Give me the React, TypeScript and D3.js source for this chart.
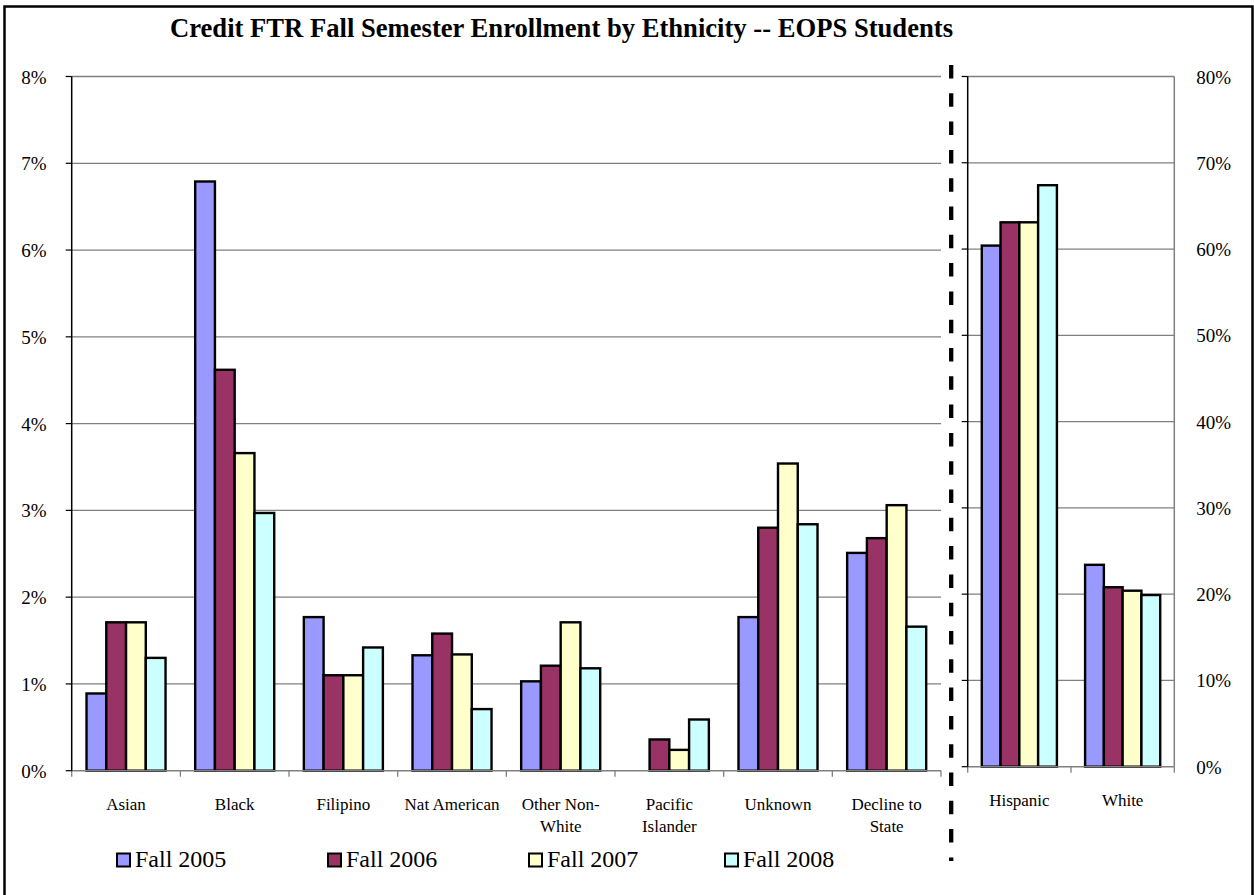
import { scaleBand, scaleLinear } from "d3";

const leftCategories = [
  "Asian",
  "Black",
  "Filipino",
  "Nat American",
  "Other Non-\nWhite",
  "Pacific\nIslander",
  "Unknown",
  "Decline to\nState",
];
const rightCategories = ["Hispanic", "White"];

const seriesNames = ["Fall 2005", "Fall 2006", "Fall 2007", "Fall 2008"];
const seriesColors = ["#9999FF", "#993366", "#FFFFCC", "#CCFFFF"];

// percent values
const fall2005Left = [0.89, 6.79, 1.77, 1.33, 1.03, null, 1.77, 2.51];
const fall2006Left = [1.71, 4.62, 1.1, 1.58, 1.21, 0.36, 2.8, 2.68];
const fall2007Left = [1.71, 3.66, 1.1, 1.34, 1.71, 0.24, 3.54, 3.06];
const fall2008Left = [1.3, 2.97, 1.42, 0.71, 1.18, 0.59, 2.84, 1.66];

const fall2005Right = [60.4, 23.4];
const fall2006Right = [63.1, 20.8];
const fall2007Right = [63.1, 20.4];
const fall2008Right = [67.4, 19.9];

const leftTicks = [0, 1, 2, 3, 4, 5, 6, 7, 8];
const rightTicks = [0, 10, 20, 30, 40, 50, 60, 70, 80];

const FONT = "Liberation Serif";
const W = 1254;
const H = 895;

interface PanelProps {
  categories: string[];
  series: (number | null)[][];
  ticks: number[];
  max: number;
  x0: number;
  x1: number;
  yTop: number;
  yBottom: number;
  labelSide: "left" | "right";
  labelY: number;
  frame: boolean;
}

function Panel({
  categories,
  series,
  ticks,
  max,
  x0,
  x1,
  yTop,
  yBottom,
  labelSide,
  labelY,
  frame,
}: PanelProps) {
  const x = scaleBand().domain(categories).range([x0, x1]).padding(0);
  const bw = x.bandwidth();
  // gap width 150% of a bar, split on both sides of each group
  const pad = (bw * 0.75) / 5.5;
  const xs = scaleBand().domain(seriesNames).range([pad, bw - pad]).padding(0);
  const y = scaleLinear().domain([0, max]).range([yBottom, yTop]);
  const bounds = [x0, ...categories.map((c) => (x(c) as number) + bw)];

  return (
    <g>
      {ticks
        .filter((t) => t > 0)
        .map((t) => (
          <line
            key={`g-${t}`}
            x1={x0}
            x2={x1}
            y1={y(t)}
            y2={y(t)}
            stroke="#808080"
            strokeWidth={1.3}
          />
        ))}
      {frame && (
        <line x1={x1} x2={x1} y1={yTop} y2={yBottom} stroke="#808080" strokeWidth={1.5} />
      )}
      {categories.map((c, ci) =>
        series.map((s, si) => {
          const v = s[ci];
          if (v == null) return null;
          return (
            <rect
              key={`${c}-${si}`}
              x={(x(c) as number) + (xs(seriesNames[si]) as number)}
              y={y(v)}
              width={xs.bandwidth()}
              height={yBottom - y(v)}
              fill={seriesColors[si]}
              stroke="#000"
              strokeWidth={2.4}
            />
          );
        })
      )}
      <line x1={x0} x2={x1} y1={yBottom} y2={yBottom} stroke="#808080" strokeWidth={1.5} />
      {bounds.map((b, i) => (
        <line key={`bt-${i}`} x1={b} x2={b} y1={yBottom} y2={yBottom + 6} stroke="#808080" strokeWidth={1.3} />
      ))}
      <line x1={x0} x2={x0} y1={yTop} y2={yBottom} stroke="#000" strokeWidth={1.5} />
      {ticks.map((t) => (
        <line key={`lt-${t}`} x1={x0 - 6} x2={x0} y1={y(t)} y2={y(t)} stroke="#000" strokeWidth={1.2} />
      ))}
      {ticks.map((t) => (
        <text
          key={`tl-${t}`}
          x={labelSide === "left" ? x0 - 25 : x1 + 22}
          y={y(t) + 7}
          textAnchor={labelSide === "left" ? "end" : "start"}
          fontSize={19}
          fontFamily={FONT}
        >
          {`${t}%`}
        </text>
      ))}
      {categories.map((c) =>
        c.split("\n").map((line, li) => (
          <text
            key={`cl-${c}-${li}`}
            x={(x(c) as number) + bw / 2}
            y={labelY + li * 22}
            textAnchor="middle"
            fontSize={17}
            fontFamily={FONT}
          >
            {line}
          </text>
        ))
      )}
    </g>
  );
}

export default function App() {
  const legendX = [117, 328, 529, 725];
  return (
    <svg
      width={W}
      height={H}
      style={{ position: "absolute", left: 0, top: 0, background: "#fff" }}
    >
      <rect x={0} y={0} width={W} height={H} fill="#fff" />
      <rect x={4.5} y={6.5} width={1248} height={H + 10} fill="none" stroke="#000" strokeWidth={2.5} />
      <text
        x={561.5}
        y={37}
        textAnchor="middle"
        fontSize={27}
        fontWeight="bold"
        fontFamily={FONT}
        textLength={783}
        lengthAdjust="spacingAndGlyphs"
      >
        Credit FTR Fall Semester Enrollment by Ethnicity -- EOPS Students
      </text>
      <Panel
        categories={leftCategories}
        series={[fall2005Left, fall2006Left, fall2007Left, fall2008Left]}
        ticks={leftTicks}
        max={8}
        x0={71.7}
        x1={941}
        yTop={76.5}
        yBottom={770.7}
        labelSide="left"
        labelY={810}
        frame={false}
      />
      <Panel
        categories={rightCategories}
        series={[fall2005Right, fall2006Right, fall2007Right, fall2008Right]}
        ticks={rightTicks}
        max={80}
        x0={967.7}
        x1={1174.3}
        yTop={76.5}
        yBottom={766.7}
        labelSide="right"
        labelY={806}
        frame={true}
      />
      <line
        x1={951.2}
        x2={951.2}
        y1={65}
        y2={861}
        stroke="#000"
        strokeWidth={4.3}
        strokeDasharray="13.5 14.8"
      />
      {seriesNames.map((s, i) => (
        <g key={s}>
          <rect
            x={legendX[i]}
            y={853.5}
            width={13}
            height={13}
            fill={seriesColors[i]}
            stroke="#000"
            strokeWidth={2}
          />
          <text x={legendX[i] + 18} y={866.7} fontSize={24} fontFamily={FONT}>
            {s}
          </text>
        </g>
      ))}
    </svg>
  );
}
